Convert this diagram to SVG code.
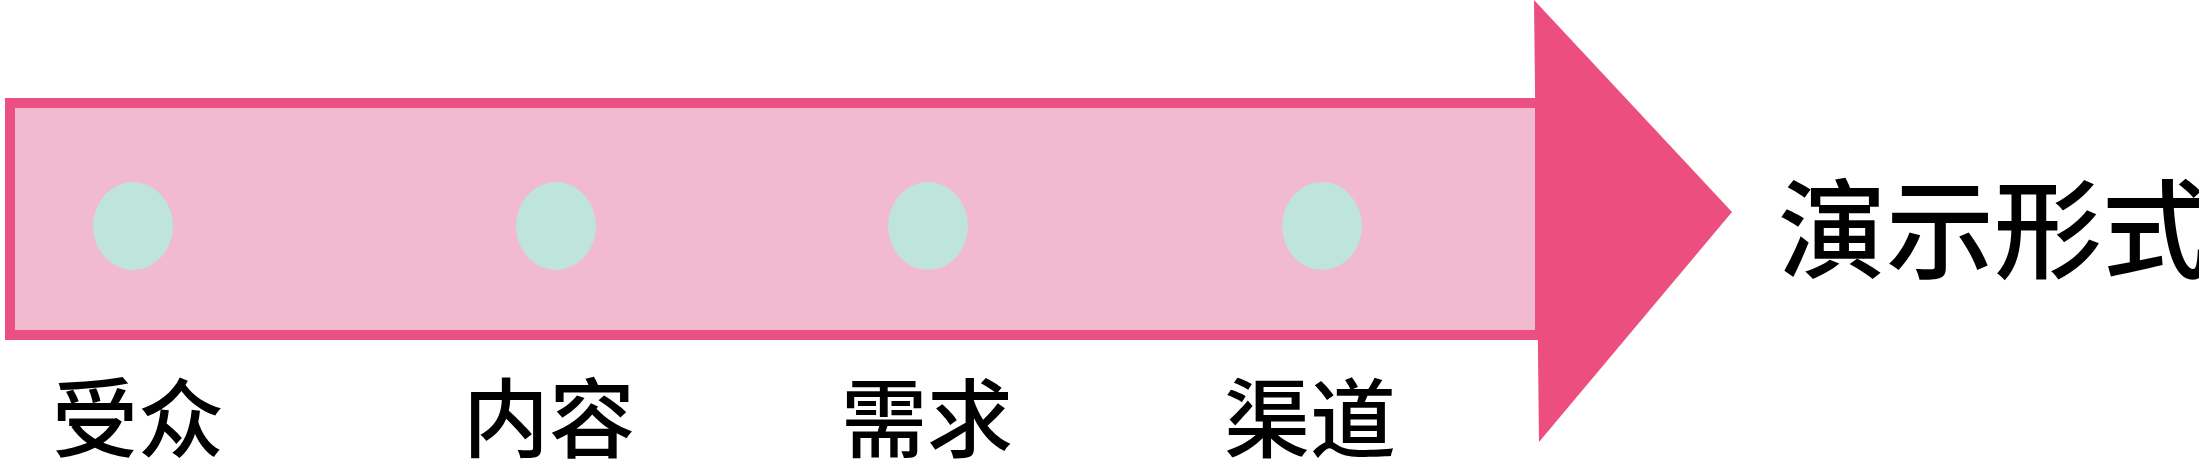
<svg xmlns="http://www.w3.org/2000/svg" width="2199" height="464" viewBox="0 0 2199 464">
<style>
.lbl{font-family:"Noto Sans CJK SC","Noto Sans",sans-serif;fill:#000;font-weight:500}
.dot{fill:#BEE4DC}
</style>
<rect width="2199" height="464" fill="#fff"/>
<g id="arrow">
<rect x="10" y="103" width="1530" height="232" fill="#F2BACE" stroke="#EA5081" stroke-width="10"/>
<polygon points="1534,0 1732,212 1539,442" fill="#EC4E80"/>
</g>
<g id="connectors"></g>
<g id="node-audience">
<ellipse class="dot" cx="133" cy="226" rx="40" ry="44"/>
<text class="lbl" x="52" y="451" font-size="86">受众</text>
</g>
<g id="node-content">
<ellipse class="dot" cx="556" cy="226" rx="40" ry="44"/>
<text class="lbl" x="463" y="451" font-size="86">内容</text>
</g>
<g id="node-demand">
<ellipse class="dot" cx="928" cy="226" rx="40" ry="44"/>
<text class="lbl" x="841" y="451" font-size="86">需求</text>
</g>
<g id="node-channel">
<ellipse class="dot" cx="1322" cy="226" rx="40" ry="44"/>
<text class="lbl" x="1224" y="451" font-size="86">渠道</text>
</g>
<g id="node-form">
<text class="lbl" x="1778" y="270" font-size="108">演示形式</text>
</g>
</svg>
